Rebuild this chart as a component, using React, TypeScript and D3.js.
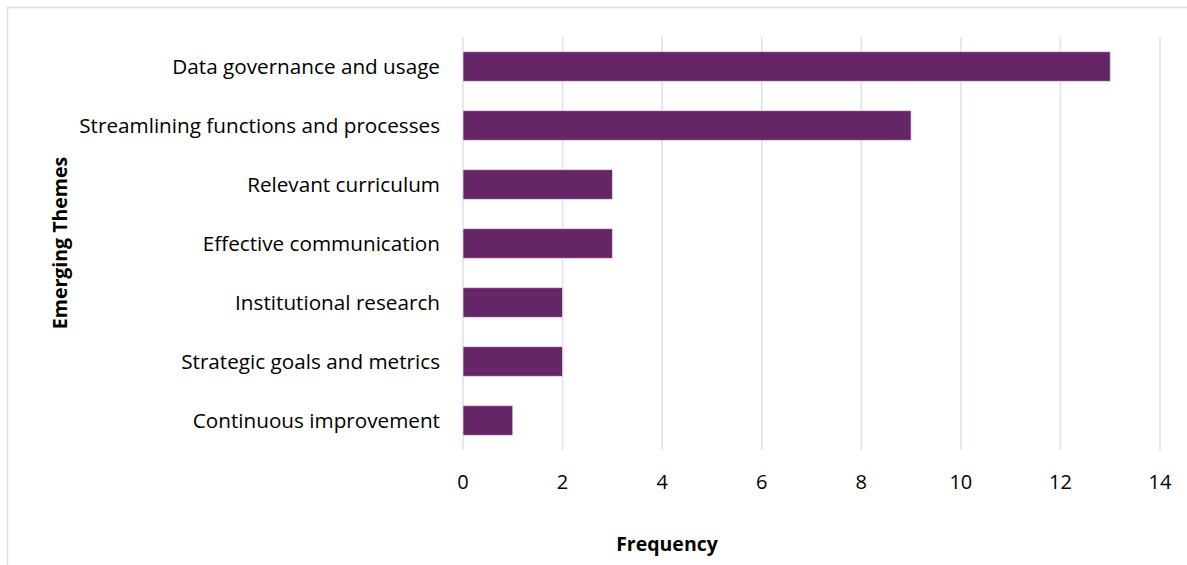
import * as d3 from 'd3';

const categories = [
  'Data governance and usage',
  'Streamlining functions and processes',
  'Relevant curriculum',
  'Effective communication',
  'Institutional research',
  'Strategic goals and metrics',
  'Continuous improvement',
];
const frequencies = [13, 9, 3, 3, 2, 2, 1];
const xTicks = [0, 2, 4, 6, 8, 10, 12, 14];

const W = 1187;
const H = 565;
const font = "'Open Sans', sans-serif";

export default function App() {
  const x = d3.scaleLinear().domain([0, 14]).range([463, 1160]);
  const y = d3.scaleBand().domain(categories).range([37, 450]).paddingInner(0.5).paddingOuter(0.25);

  return (
    <svg
      width={W}
      height={H}
      style={{ position: 'absolute', left: 0, top: 0, background: '#fff' }}
    >
      <rect x={7.5} y={7.5} width={W + 10} height={H + 10} fill="#fff" stroke="#dcdfe4" strokeWidth={1.5} />
      {xTicks.map((t) => (
        <line key={t} x1={x(t)} x2={x(t)} y1={37} y2={450} stroke="#dde1ea" strokeWidth={1.5} />
      ))}
      {categories.map((c, i) => (
        <g key={c}>
          <rect
            x={x(0)}
            y={y(c)!}
            width={x(frequencies[i]) - x(0)}
            height={y.bandwidth()}
            fill="#652566"
            stroke="#f0d8f0"
            strokeWidth={0.75}
          />
          <text
            x={440}
            y={y(c)! + y.bandwidth() / 2}
            dy="0.35em"
            textAnchor="end"
            fontFamily={font}
            fontSize={20.7}
            fill="#000"
          >
            {c}
          </text>
        </g>
      ))}
      {xTicks.map((t) => (
        <text
          key={'l' + t}
          x={x(t)}
          y={482}
          dy="0.35em"
          textAnchor="middle"
          fontFamily={font}
          fontSize={20}
          fill="#000"
        >
          {t}
        </text>
      ))}
      <text x={667} y={544} dy="0.35em" textAnchor="middle" fontFamily={font} fontSize={19.5} fontWeight="bold">
        Frequency
      </text>
      <text
        transform="translate(60,243) rotate(-90)"
        dy="0.35em"
        textAnchor="middle"
        fontFamily={font}
        fontSize={19.5}
        fontWeight="bold"
      >
        Emerging Themes
      </text>
    </svg>
  );
}
